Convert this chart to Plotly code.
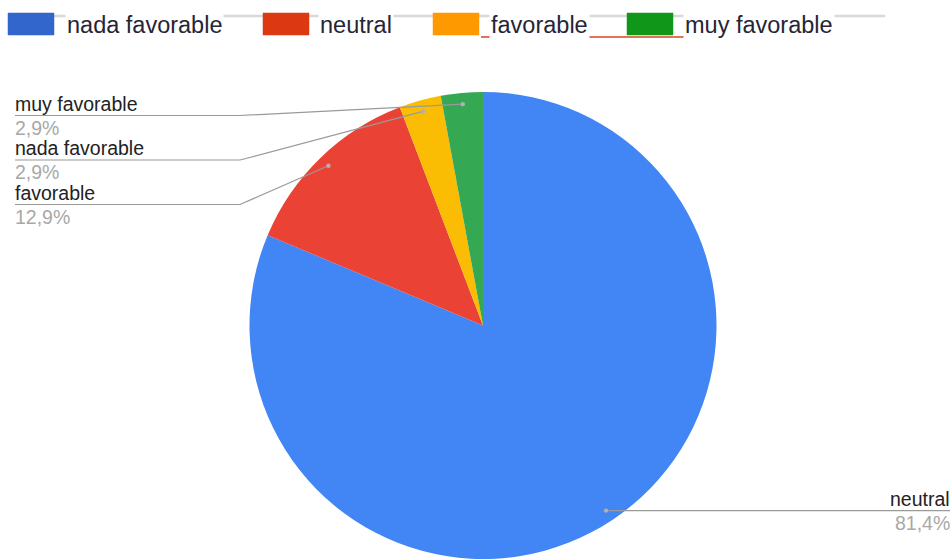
import math
import plotly.graph_objects as go

W, H = 952, 559

# Slices, clockwise from 12 o'clock
slice_labels = ["neutral", "favorable", "nada favorable", "muy favorable"]
slice_values = [81.4, 12.9, 2.9, 2.9]
slice_colors = ["#4285F4", "#EA4335", "#FBBC04", "#34A853"]

# Legend entries along the top
legend_labels = ["nada favorable", "neutral", "favorable", "muy favorable"]
legend_colors = ["#3366CC", "#DC3912", "#FF9900", "#109618"]

FONT = "Liberation Sans, Arial, sans-serif"

# Pie placement (pixels)
pie_left, pie_right, pie_top = 248, 718, 92
dom_x = [pie_left / W, pie_right / W]
dom_y = [0, (H - pie_top) / H]
cx = (pie_left + pie_right) / 2
R = min(pie_right - pie_left, H - pie_top) / 2
cy = pie_top + R

fig = go.Figure()
fig.add_trace(go.Pie(
    labels=slice_labels, values=slice_values,
    marker=dict(colors=slice_colors, line=dict(width=0)),
    sort=False, direction="clockwise", rotation=0,
    textinfo="none", hoverinfo="label+percent", showlegend=False,
    domain=dict(x=dom_x, y=dom_y),
))

shapes, annos = [], []

def pct(v):
    return f"{v:.1f}".replace(".", ",") + "%"

# Leader lines and outside labels
total = sum(slice_values)
cum = 0.0
left, right = [], []
for lab, v in zip(slice_labels, slice_values):
    th = 2 * math.pi * (cum + v / 2) / total
    cum += v
    rd = 0.952 * R
    px, py = cx + rd * math.sin(th), cy - rd * math.cos(th)
    (right if math.sin(th) > 0 else left).append((th, lab, v, px, py))

line_col = "#9a9a9a"
dot_col = "#b0b0b0"
LBL = 19.5


def dot(px, py):
    shapes.append(dict(type="circle", xref="x", yref="y",
                       x0=px - 2.2, x1=px + 2.2, y0=py - 2.2, y1=py + 2.2,
                       fillcolor=dot_col, line=dict(width=0), layer="above"))


def label_pair(x, y, name, value, anchor, dx):
    annos.append(dict(x=x, y=y, xref="x", yref="y", text=name,
                      xanchor=anchor, yanchor="bottom", showarrow=False,
                      xshift=dx, borderpad=0,
                      font=dict(family=FONT, size=LBL, color="#222222")))
    annos.append(dict(x=x, y=y, xref="x", yref="y", text=pct(value),
                      xanchor=anchor, yanchor="top", showarrow=False,
                      xshift=dx, borderpad=0,
                      font=dict(family=FONT, size=LBL, color="#a8a8a8")))


left.sort(key=lambda t: -t[0])
slot_y0, slot_step, text_x, elbow_x = 115.5, 44.5, 15, 240
for i, (th, lab, v, px, py) in enumerate(left):
    ly = slot_y0 + i * slot_step
    shapes.append(dict(type="path", xref="x", yref="y",
                       path=f"M {text_x},{ly} L {elbow_x},{ly} L {px:.2f},{py:.2f}",
                       line=dict(color=line_col, width=1.2), layer="above"))
    dot(px, py)
    label_pair(text_x, ly, lab, v, "left", -1)

for th, lab, v, px, py in right:
    end_x = 950
    shapes.append(dict(type="line", xref="x", yref="y", x0=px, x1=end_x, y0=py, y1=py,
                       line=dict(color=line_col, width=1.2), layer="above"))
    dot(px, py)
    label_pair(end_x, py, lab, v, "right", 1)

# Legend row
box_x = [8, 263, 433, 627]
text_x0 = [67, 320, 491, 685]
box_w, box_top, box_bot = 46, 13, 35
shapes.append(dict(type="line", xref="x", yref="y", x0=54, x1=885, y0=16, y1=16,
                   line=dict(color="#d9d9d9", width=2.5), layer="below"))
# red underline beneath "favorable"
shapes.append(dict(type="line", xref="x", yref="y", x0=481, x1=690, y0=37, y1=37,
                   line=dict(color="#D9441F", width=1.5)))
for bx, tx, lab, col in zip(box_x, text_x0, legend_labels, legend_colors):
    shapes.append(dict(type="rect", xref="x", yref="y", x0=bx, x1=bx + box_w,
                       y0=box_top, y1=box_bot, fillcolor=col,
                       line=dict(color=col, width=0.5), layer="above"))
    annos.append(dict(x=tx, y=25, xref="x", yref="y", text=lab,
                      xanchor="left", yanchor="middle", showarrow=False,
                      bgcolor="white", xshift=-2,
                      font=dict(family=FONT, size=23.5, color="#252535")))

fig.update_layout(
    width=W, height=H, margin=dict(l=0, r=0, t=0, b=0),
    paper_bgcolor="white", plot_bgcolor="white",
    xaxis=dict(range=[0, W], visible=False, fixedrange=True),
    yaxis=dict(range=[H, 0], visible=False, fixedrange=True),
    shapes=shapes, annotations=annos,
)
fig.write_html("out.html")
